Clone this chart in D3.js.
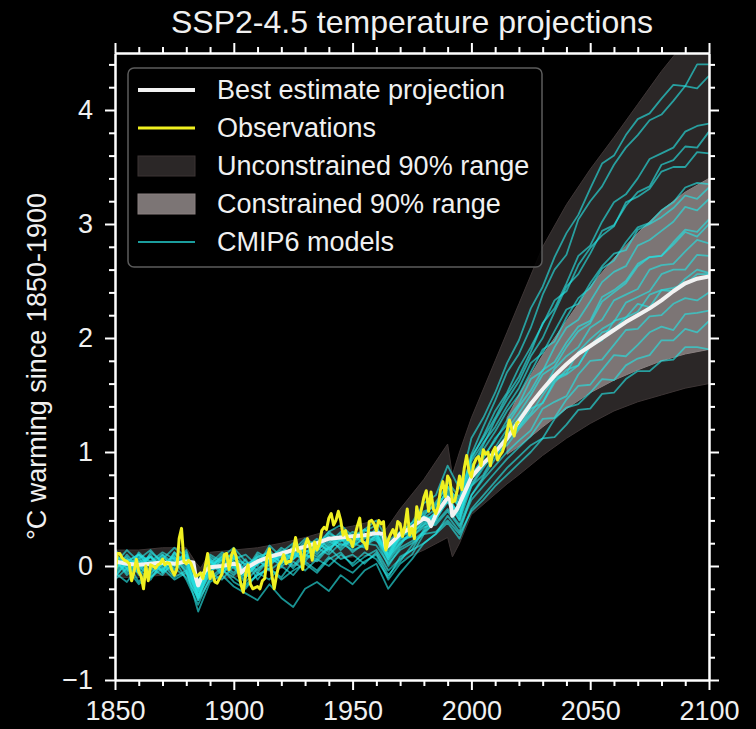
<!DOCTYPE html>
<html>
<head>
<meta charset="utf-8">
<script src="https://cdn.jsdelivr.net/npm/d3@7"></script>
<style>
  html, body { margin: 0; padding: 0; background: #000; }
  svg { display: block; font-family: "Liberation Sans", Arial, sans-serif; }
</style>
</head>
<body>
<div id="container"></div>
<script>
// ---- data (°C warming since 1850-1900) ----
const xMajor = [1850, 1900, 1950, 2000, 2050, 2100]
const yMajor = [-1, 0, 1, 2, 3, 4]

// observations, annual 1850-2020
const obsYears = d3.range(1850, 2021)
const obsValues = [
  -0.08, 0.11, 0.11, 0.07, 0.05, 0.04, 0.02, -0.13, -0.05, 0.06,
  -0.05, -0.09, -0.20, 0.00, -0.13, 0.01, 0.00, -0.02, 0.01, 0.02,
  0.06, 0.01, 0.03, 0.02, -0.04, -0.08, -0.03, 0.24, 0.33, 0.04,
  0.02, 0.05, 0.02, -0.04, -0.09, -0.08, -0.06, -0.11, 0.00, 0.11,
  -0.11, -0.05, -0.14, -0.15, -0.11, -0.07, 0.10, 0.11, -0.03, 0.09,
  0.15, 0.08, -0.06, -0.16, -0.23, -0.07, 0.01, -0.16, -0.20, -0.19,
  -0.18, -0.20, -0.13, -0.11, 0.08, 0.15, -0.08, -0.20, -0.08, 0.01,
  0.04, 0.10, 0.02, 0.04, 0.04, 0.13, 0.25, 0.13, 0.13, -0.03,
  0.18, 0.24, 0.18, 0.05, 0.21, 0.14, 0.19, 0.31, 0.34, 0.32,
  0.42, 0.46, 0.36, 0.40, 0.48, 0.40, 0.27, 0.31, 0.23, 0.23,
  0.17, 0.27, 0.35, 0.42, 0.22, 0.20, 0.15, 0.39, 0.40, 0.37,
  0.31, 0.40, 0.37, 0.39, 0.14, 0.23, 0.28, 0.32, 0.26, 0.39,
  0.37, 0.26, 0.35, 0.50, 0.27, 0.33, 0.24, 0.52, 0.41, 0.50,
  0.60, 0.66, 0.48, 0.65, 0.50, 0.46, 0.52, 0.67, 0.74, 0.61,
  0.79, 0.75, 0.56, 0.57, 0.66, 0.79, 0.67, 0.86, 0.97, 0.83,
  0.78, 0.89, 0.94, 0.96, 0.88, 1.02, 0.98, 1.00, 0.88, 1.00,
  1.04, 0.93, 0.97, 1.00, 1.06, 1.18, 1.28, 1.20, 1.14, 1.25,
  1.27
]

// best estimate projection
const bestYears = [1850, 1855, 1860, 1865, 1870, 1875, 1880, 1883, 1884, 1885, 1886, 1888, 1890, 1895, 1900,
  1902, 1903, 1905, 1910, 1915, 1920, 1925, 1930, 1935, 1940, 1945, 1950, 1955, 1960, 1963, 1964, 1966,
  1970, 1975, 1980, 1982, 1983, 1985, 1990, 1991, 1992, 1994, 2000, 2005, 2010, 2015, 2020, 2025, 2030,
  2035, 2040, 2045, 2050, 2055, 2060, 2065, 2070, 2075, 2080, 2085, 2090, 2095, 2100]
const bestValues = [0.04, 0.02, 0.01, 0.02, 0.03, 0.02, 0.04, 0.03, -0.10, -0.17, -0.12, -0.04, -0.01, 0.00, 0.02,
  0.01, -0.06, -0.02, 0.04, 0.08, 0.11, 0.14, 0.17, 0.20, 0.24, 0.25, 0.26, 0.27, 0.29, 0.28, 0.16, 0.20,
  0.28, 0.34, 0.42, 0.40, 0.35, 0.45, 0.60, 0.58, 0.44, 0.50, 0.78, 0.90, 1.00, 1.12, 1.27, 1.42, 1.55,
  1.67, 1.77, 1.86, 1.93, 2.00, 2.07, 2.14, 2.20, 2.26, 2.33, 2.41, 2.48, 2.52, 2.54]

// unconstrained 90% range
const uncYears = [1850, 1860, 1870, 1880, 1884, 1886, 1890, 1900, 1910, 1920, 1930, 1940, 1950, 1960, 1964, 1966,
  1970, 1980, 1990, 1992, 1995, 2000, 2010, 2015, 2020, 2030, 2040, 2050, 2060, 2070, 2080, 2090, 2100]
const uncLow = [-0.10, -0.10, -0.08, -0.08, -0.25, -0.28, -0.12, -0.10, -0.06, -0.02, 0.02, 0.06, 0.08, 0.10, -0.04, 0.00,
  0.05, 0.14, 0.25, 0.08, 0.20, 0.45, 0.63, 0.72, 0.80, 0.97, 1.12, 1.25, 1.36, 1.44, 1.50, 1.56, 1.60]
const uncHigh = [0.14, 0.14, 0.16, 0.16, 0.03, -0.02, 0.12, 0.14, 0.16, 0.20, 0.25, 0.31, 0.35, 0.40, 0.32, 0.38,
  0.50, 0.76, 1.07, 0.80, 1.00, 1.30, 1.80, 2.05, 2.30, 2.80, 3.17, 3.48, 3.76, 4.05, 4.34, 4.60, 4.85]

// constrained 90% range
const conYears = [2015, 2020, 2030, 2040, 2050, 2060, 2070, 2080, 2090, 2100]
const conLow = [0.98, 1.05, 1.22, 1.38, 1.52, 1.63, 1.72, 1.80, 1.86, 1.90]
const conHigh = [1.30, 1.50, 1.85, 2.15, 2.45, 2.70, 2.92, 3.12, 3.28, 3.40]

// CMIP6 model runs, every 5 years 1850-2100
const modelYears = d3.range(1850, 2101, 5)
const modelA = [0.05, -0.06, 0.12, 0.02, 0.10, -0.04, 0.08, -0.28, 0.04, -0.08, 0.10, -0.10, 0.04, 0.14, 0.02, 0.18, 0.08, 0.22, 0.12, 0.28, 0.18, 0.30, 0.36, 0.08, 0.28, 0.38, 0.55, 0.62, 0.88, 0.68, 1.12, 1.30, 1.52, 1.78, 1.98, 2.26, 2.45, 2.71, 2.92, 3.08, 3.31, 3.53, 3.60, 3.78, 3.92, 3.97, 4.10, 4.22, 4.21, 4.40, 4.40]
const modelB = [-0.04, 0.10, -0.02, 0.08, -0.06, 0.12, 0.00, -0.22, 0.08, 0.02, -0.06, 0.06, -0.12, 0.02, 0.08, -0.02, 0.10, 0.04, 0.16, 0.06, 0.10, 0.02, 0.12, -0.08, 0.04, 0.18, 0.30, 0.45, 0.70, 0.55, 0.98, 1.22, 1.45, 1.70, 1.86, 2.09, 2.38, 2.60, 2.73, 3.04, 3.20, 3.33, 3.52, 3.67, 3.78, 3.91, 3.96, 4.08, 4.21, 4.19, 4.30]
const modelC = [0.10, 0.02, -0.06, 0.12, 0.04, 0.00, 0.14, -0.18, -0.02, 0.10, 0.04, -0.04, 0.12, 0.06, 0.16, 0.10, 0.22, 0.14, 0.28, 0.24, 0.20, 0.32, 0.26, 0.10, 0.30, 0.34, 0.48, 0.52, 0.74, 0.60, 0.96, 1.12, 1.30, 1.50, 1.66, 1.88, 2.13, 2.26, 2.48, 2.72, 2.81, 3.02, 3.19, 3.26, 3.40, 3.57, 3.62, 3.67, 3.81, 3.86, 3.88]
const modelD = [-0.10, 0.04, -0.14, -0.02, -0.08, 0.06, -0.12, -0.34, -0.10, -0.02, -0.14, -0.20, -0.06, -0.12, 0.00, -0.08, 0.04, -0.04, 0.08, 0.00, -0.06, 0.04, 0.10, -0.12, 0.02, 0.10, 0.28, 0.40, 0.62, 0.42, 0.86, 1.06, 1.28, 1.46, 1.62, 1.84, 2.00, 2.23, 2.45, 2.56, 2.74, 2.94, 2.99, 3.16, 3.28, 3.33, 3.52, 3.56, 3.68, 3.67, 3.81]
const modelE = [0.02, 0.14, 0.04, -0.04, 0.10, 0.02, 0.06, -0.20, 0.10, 0.04, 0.12, 0.00, 0.08, 0.02, 0.12, 0.20, 0.12, 0.18, 0.30, 0.22, 0.26, 0.20, 0.34, 0.16, 0.24, 0.36, 0.42, 0.50, 0.66, 0.54, 0.88, 1.02, 1.18, 1.36, 1.50, 1.70, 1.90, 1.97, 2.18, 2.35, 2.44, 2.61, 2.68, 2.84, 2.97, 3.01, 3.12, 3.19, 3.32, 3.36, 3.35]
const modelF = [-0.06, 0.04, 0.10, 0.00, -0.04, 0.08, -0.02, -0.26, -0.06, 0.06, -0.02, -0.10, 0.02, 0.10, 0.04, 0.08, 0.18, 0.10, 0.20, 0.30, 0.18, 0.24, 0.30, 0.06, 0.20, 0.28, 0.40, 0.46, 0.60, 0.40, 0.78, 0.96, 1.10, 1.28, 1.42, 1.64, 1.71, 1.92, 2.09, 2.16, 2.32, 2.49, 2.58, 2.63, 2.81, 2.86, 2.94, 3.02, 3.15, 3.12, 3.22]
const modelG = [0.08, -0.02, 0.06, 0.14, 0.02, -0.06, 0.10, -0.14, 0.00, 0.08, 0.16, 0.04, -0.04, 0.08, 0.14, 0.06, 0.16, 0.24, 0.16, 0.22, 0.30, 0.26, 0.22, 0.14, 0.26, 0.30, 0.36, 0.48, 0.56, 0.48, 0.72, 0.88, 1.04, 1.20, 1.34, 1.50, 1.68, 1.75, 1.92, 2.06, 2.13, 2.32, 2.40, 2.48, 2.63, 2.71, 2.72, 2.84, 2.95, 2.93, 3.04]
const modelH = [0.00, 0.08, -0.08, 0.04, 0.12, 0.06, -0.04, -0.22, 0.06, -0.06, 0.02, -0.14, -0.02, 0.04, 0.10, 0.00, 0.12, 0.18, 0.26, 0.14, 0.24, 0.32, 0.28, 0.04, 0.18, 0.32, 0.44, 0.40, 0.58, 0.46, 0.70, 0.86, 1.00, 1.16, 1.30, 1.44, 1.53, 1.73, 1.84, 1.92, 2.09, 2.16, 2.33, 2.38, 2.43, 2.60, 2.64, 2.65, 2.76, 2.86, 2.83]
const modelI = [-0.12, -0.02, -0.16, -0.06, 0.02, -0.10, -0.04, -0.40, -0.14, -0.08, -0.18, -0.24, -0.30, -0.16, -0.28, -0.36, -0.20, -0.14, -0.22, -0.08, -0.16, -0.04, 0.02, -0.20, -0.06, 0.06, 0.20, 0.28, 0.44, 0.30, 0.62, 0.78, 0.94, 1.10, 1.22, 1.34, 1.50, 1.65, 1.69, 1.88, 1.99, 2.08, 2.14, 2.31, 2.36, 2.41, 2.56, 2.60, 2.60, 2.73, 2.72]
const modelJ = [0.14, 0.04, 0.10, -0.02, 0.06, 0.16, 0.08, -0.12, 0.02, 0.12, 0.06, 0.10, 0.00, 0.18, 0.08, 0.14, 0.24, 0.18, 0.30, 0.36, 0.26, 0.32, 0.40, 0.22, 0.30, 0.38, 0.46, 0.54, 0.64, 0.52, 0.76, 0.90, 1.00, 1.12, 1.22, 1.38, 1.43, 1.63, 1.68, 1.76, 1.93, 2.05, 2.08, 2.18, 2.30, 2.27, 2.42, 2.44, 2.47, 2.56, 2.56]
const modelK = [-0.02, 0.06, 0.00, 0.10, -0.06, 0.02, 0.12, -0.20, -0.04, 0.00, -0.08, 0.02, 0.06, -0.04, 0.04, 0.12, 0.04, 0.16, 0.10, 0.20, 0.14, 0.18, 0.24, 0.00, 0.16, 0.22, 0.30, 0.38, 0.50, 0.36, 0.62, 0.76, 0.88, 1.00, 1.10, 1.19, 1.38, 1.44, 1.49, 1.68, 1.80, 1.81, 1.94, 2.07, 2.08, 2.19, 2.20, 2.30, 2.35, 2.33, 2.40]
const modelL = [0.06, -0.08, 0.02, 0.08, 0.00, 0.10, 0.04, -0.30, 0.00, 0.06, 0.10, -0.06, 0.08, 0.12, 0.02, 0.10, 0.06, 0.14, 0.22, 0.16, 0.28, 0.20, 0.26, 0.10, 0.22, 0.26, 0.34, 0.36, 0.48, 0.34, 0.58, 0.70, 0.82, 0.94, 1.04, 1.14, 1.29, 1.30, 1.46, 1.58, 1.59, 1.72, 1.85, 1.84, 1.94, 2.05, 2.10, 2.07, 2.21, 2.22, 2.24]
const modelM = [-0.08, 0.02, -0.04, -0.12, 0.04, -0.02, -0.10, -0.28, -0.06, -0.12, 0.00, -0.16, -0.08, -0.02, -0.10, 0.04, -0.04, 0.06, 0.00, 0.10, 0.02, 0.12, 0.06, -0.10, 0.08, 0.14, 0.20, 0.28, 0.38, 0.24, 0.50, 0.62, 0.74, 0.86, 0.96, 1.06, 1.12, 1.29, 1.39, 1.42, 1.52, 1.64, 1.63, 1.76, 1.82, 1.85, 1.98, 1.98, 2.08, 2.05, 2.15]
const modelN = [0.04, -0.04, 0.08, -0.10, 0.02, 0.08, -0.06, -0.24, 0.04, -0.02, 0.08, -0.10, 0.02, 0.08, 0.00, 0.06, 0.14, 0.08, 0.16, 0.24, 0.12, 0.20, 0.18, 0.02, 0.14, 0.20, 0.28, 0.30, 0.40, 0.28, 0.48, 0.58, 0.70, 0.80, 0.90, 1.00, 1.12, 1.13, 1.24, 1.37, 1.38, 1.51, 1.52, 1.64, 1.71, 1.71, 1.80, 1.81, 1.92, 1.92, 1.90]
const modelO = [0.06, -0.02, 0.10, 0.04, -0.04, 0.12, 0.02, -0.20, 0.06, 0.00, 0.08, -0.06, 0.10, 0.04, 0.12, 0.06, 0.20, 0.12, 0.26, 0.18, 0.22, 0.28, 0.24, 0.06, 0.26, 0.32, 0.44, 0.56, 0.70, 0.50, 0.92, 1.08, 1.22, 1.40, 1.56, 1.78, 1.87, 2.06, 2.25, 2.30, 2.48, 2.63, 2.74, 2.77, 2.95, 3.00, 3.06, 3.14, 3.25, 3.22, 3.32]
const modelP = [-0.04, 0.06, 0.02, -0.08, 0.08, 0.00, 0.06, -0.26, -0.02, 0.08, 0.00, -0.08, 0.04, 0.00, 0.10, 0.16, 0.08, 0.20, 0.14, 0.24, 0.16, 0.26, 0.30, 0.08, 0.20, 0.30, 0.38, 0.46, 0.62, 0.44, 0.80, 0.94, 1.12, 1.24, 1.40, 1.54, 1.72, 1.79, 1.96, 2.10, 2.15, 2.36, 2.42, 2.50, 2.65, 2.71, 2.72, 2.82, 2.93, 2.89, 3.00]
const modelQ = [0.10, 0.00, 0.04, 0.08, -0.02, 0.04, 0.10, -0.16, 0.04, -0.04, 0.06, 0.02, -0.06, 0.06, 0.02, 0.12, 0.10, 0.06, 0.18, 0.26, 0.20, 0.16, 0.28, 0.12, 0.24, 0.26, 0.36, 0.42, 0.56, 0.40, 0.70, 0.80, 0.98, 1.06, 1.20, 1.32, 1.43, 1.61, 1.72, 1.76, 1.93, 1.98, 2.15, 2.18, 2.23, 2.38, 2.42, 2.41, 2.52, 2.60, 2.57]
const modelR = [-0.06, -0.14, 0.00, -0.10, -0.02, -0.12, -0.06, -0.30, -0.12, -0.04, -0.10, -0.18, -0.08, -0.02, -0.12, -0.04, 0.02, -0.06, 0.06, 0.12, 0.00, 0.08, 0.14, -0.04, 0.06, 0.14, 0.32, 0.48, 0.68, 0.58, 0.94, 1.14, 1.36, 1.52, 1.74, 1.92, 2.12, 2.33, 2.41, 2.64, 2.79, 2.90, 2.98, 3.19, 3.24, 3.31, 3.46, 3.50, 3.50, 3.63, 3.62]
const cmip6Models = [modelA, modelB, modelC, modelD, modelE, modelF, modelG, modelH, modelI,
  modelJ, modelK, modelL, modelM, modelN, modelO, modelP, modelQ, modelR]

const legendLabels = ["Best estimate projection", "Observations", "Unconstrained 90% range", "Constrained 90% range", "CMIP6 models"]

// ---- colours ----
let white = "#f2f2f2"
let yellow = "#f0f020"
let cyan = "#26e0e0"
let darkRange = "#2b2727"
let lightRange = "#7c7575"

let width = 756
let height = 729
let margin = {top: 53, right: 47, bottom: 49, left: 115}

let svg = d3.select("#container")
    .append("svg")
    .attr("width", width)
    .attr("height", height)

svg.append("rect").attr("width", width).attr("height", height).attr("fill", "#000")

let x = d3.scaleLinear()
    .domain([1850, 2100])
    .range([margin.left, width - margin.right])

let y = d3.scaleLinear()
    .domain([-1, 4.5])
    .range([height - margin.bottom, margin.top])

svg.append("clipPath").attr("id", "plotclip")
    .append("rect")
    .attr("x", margin.left).attr("y", margin.top)
    .attr("width", width - margin.left - margin.right)
    .attr("height", height - margin.top - margin.bottom)

let plot = svg.append("g").attr("clip-path", "url(#plotclip)")

let area = d3.area()
    .x(d => x(d[0]))
    .y0(d => y(d[1]))
    .y1(d => y(d[2]))

let line = d3.line()
    .x(d => x(d[0]))
    .y(d => y(d[1]))

// ranges
plot.append("path")
    .datum(uncYears.map((yr, i) => [yr, uncLow[i], uncHigh[i]]))
    .attr("d", area)
    .attr("fill", darkRange)
    .attr("stroke", "#3d3535")
    .attr("stroke-width", 1)

plot.append("path")
    .datum(conYears.map((yr, i) => [yr, conLow[i], conHigh[i]]))
    .attr("d", area)
    .attr("fill", lightRange)
    .attr("stroke", "#8a8080")
    .attr("stroke-width", 1)

// CMIP6 models
plot.append("g")
    .selectAll("path")
    .data(cmip6Models)
    .join("path")
        .attr("d", m => line(modelYears.map((yr, i) => [yr, m[i]])))
        .attr("fill", "none")
        .attr("stroke", cyan)
        .attr("stroke-opacity", 0.65)
        .attr("stroke-width", 1.8)
        .attr("stroke-linejoin", "round")

// best estimate
plot.append("path")
    .datum(bestYears.map((yr, i) => [yr, bestValues[i]]))
    .attr("d", line)
    .attr("fill", "none")
    .attr("stroke", white)
    .attr("stroke-width", 4)
    .attr("stroke-linejoin", "round")

// observations
plot.append("path")
    .datum(obsYears.map((yr, i) => [yr, obsValues[i]]))
    .attr("d", line)
    .attr("fill", "none")
    .attr("stroke", yellow)
    .attr("stroke-width", 3)
    .attr("stroke-linejoin", "round")

// ---- axes ----
let xMinor = d3.range(1850, 2101, 10).filter(v => !xMajor.includes(v))
let yMinor = d3.range(-10, 45, 2).map(v => v / 10).filter(v => !yMajor.includes(v))

function styleAxis(g) {
    g.select(".domain").attr("stroke", "#fff").attr("stroke-width", 2)
    g.selectAll(".tick line").attr("stroke", "#fff").attr("stroke-width", 2)
    g.selectAll(".tick text").attr("fill", "#f0f0f0").attr("font-size", 27)
        .attr("font-family", "'Liberation Sans', Arial, sans-serif")
}

let bottom = height - margin.bottom
let right = width - margin.right

svg.append("g").attr("transform", `translate(0,${bottom})`)
    .call(d3.axisBottom(x).tickValues(xMinor).tickSize(6).tickFormat("").tickSizeOuter(0)).call(styleAxis)
svg.append("g").attr("transform", `translate(0,${bottom})`)
    .call(d3.axisBottom(x).tickValues(xMajor).tickSize(10).tickPadding(11).tickFormat(d3.format("d")).tickSizeOuter(0)).call(styleAxis)

svg.append("g").attr("transform", `translate(0,${margin.top})`)
    .call(d3.axisTop(x).tickValues(xMinor).tickSize(6).tickFormat("").tickSizeOuter(0)).call(styleAxis)
svg.append("g").attr("transform", `translate(0,${margin.top})`)
    .call(d3.axisTop(x).tickValues(xMajor).tickSize(10).tickFormat("").tickSizeOuter(0)).call(styleAxis)

svg.append("g").attr("transform", `translate(${margin.left},0)`)
    .call(d3.axisLeft(y).tickValues(yMinor).tickSize(6).tickFormat("").tickSizeOuter(0)).call(styleAxis)
svg.append("g").attr("transform", `translate(${margin.left},0)`)
    .call(d3.axisLeft(y).tickValues(yMajor).tickSize(10).tickPadding(12).tickFormat(d3.format("d")).tickSizeOuter(0)).call(styleAxis)

svg.append("g").attr("transform", `translate(${right},0)`)
    .call(d3.axisRight(y).tickValues(yMinor).tickSize(6).tickFormat("").tickSizeOuter(0)).call(styleAxis)
svg.append("g").attr("transform", `translate(${right},0)`)
    .call(d3.axisRight(y).tickValues(yMajor).tickSize(10).tickFormat("").tickSizeOuter(0)).call(styleAxis)

// ---- titles ----
svg.append("text")
    .attr("x", (margin.left + right) / 2)
    .attr("y", 33)
    .attr("text-anchor", "middle")
    .attr("fill", "#f0f0f0")
    .attr("font-size", 32)
    .text("SSP2-4.5 temperature projections")

svg.append("text")
    .attr("transform", `translate(46,${(margin.top + bottom) / 2}) rotate(-90)`)
    .attr("text-anchor", "middle")
    .attr("fill", "#f0f0f0")
    .attr("font-size", 27)
    .text("°C warming since 1850-1900")

// ---- legend ----
let legend = svg.append("g")

legend.append("rect")
    .attr("x", 128).attr("y", 68)
    .attr("width", 414).attr("height", 199)
    .attr("rx", 6)
    .attr("fill", "#000")
    .attr("fill-opacity", 0.85)
    .attr("stroke", "#5c5c5c")
    .attr("stroke-width", 1.5)

let rowY = i => 90 + i * 38
let handles = [
    {type: "line", color: white, w: 4},
    {type: "line", color: yellow, w: 3},
    {type: "patch", color: darkRange, edge: "#3d3535"},
    {type: "patch", color: lightRange, edge: "#8a8080"},
    {type: "line", color: cyan, w: 2, op: 0.7}
]

handles.forEach((h, i) => {
    if (h.type === "line") {
        legend.append("line")
            .attr("x1", 138).attr("x2", 195)
            .attr("y1", rowY(i)).attr("y2", rowY(i))
            .attr("stroke", h.color)
            .attr("stroke-width", h.w)
            .attr("stroke-opacity", h.op || 1)
    } else {
        legend.append("rect")
            .attr("x", 138).attr("y", rowY(i) - 10)
            .attr("width", 57).attr("height", 20)
            .attr("fill", h.color)
            .attr("stroke", h.edge)
    }
    legend.append("text")
        .attr("x", 217)
        .attr("y", rowY(i) + 9)
        .attr("fill", "#f0f0f0")
        .attr("font-size", 27)
        .text(legendLabels[i])
})
</script>
</body>
</html>
